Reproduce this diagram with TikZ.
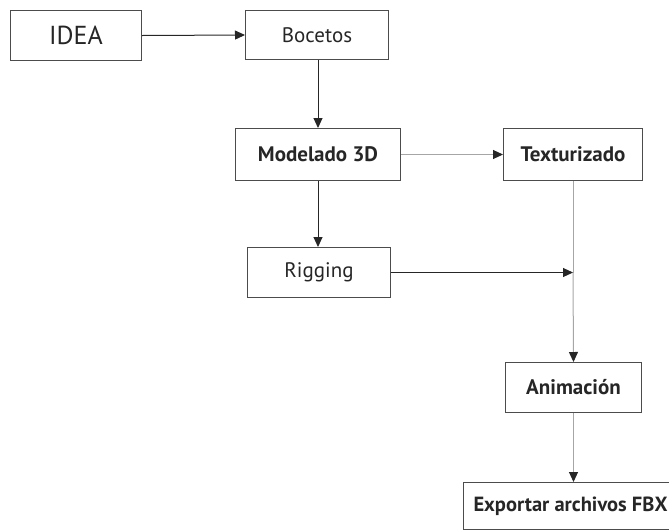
\documentclass[tikz,border=0pt]{standalone}
\usepackage{fontspec}
\setmainfont{PT Sans}
\usetikzlibrary{arrows.meta}
\begin{document}
\begin{tikzpicture}[x=1pt,y=-1pt,
  box/.style={draw=black!70, line width=1pt, inner sep=0pt, anchor=north west, text=black!85},
  blk/.style={draw=black!85, line width=1pt, -{Triangle[length=10pt,width=9pt]}},
  gry/.style={draw=black!35, line width=1pt, -{Triangle[length=10pt,width=9pt,color=black!85,fill=black!85]}},
  gryline/.style={draw=black!35, line width=1pt},
  lbl/.style={font=\fontsize{21}{24}\selectfont},
  lblb/.style={font=\fontsize{21}{24}\selectfont\bfseries}]
\useasboundingbox (0,0) rectangle (669,531);
\node[box, minimum width=131pt, minimum height=50pt, font=\fontsize{26}{30}\selectfont] (idea) at (10,10) {IDEA};
\node[box, minimum width=143pt, minimum height=49pt, lbl] (boc) at (245,10) {Bocetos};
\node[box, minimum width=165pt, minimum height=52pt, lblb] (mod) at (235,128) {Modelado 3D};
\node[box, minimum width=139pt, minimum height=52pt, lblb] (tex) at (503,128) {Texturizado};
\node[box, minimum width=143pt, minimum height=50pt, lbl] (rig) at (247,247) {Rigging};
\node[box, minimum width=136pt, minimum height=50pt, lblb] (ani) at (505,362) {Animación};
\node[box, minimum width=214pt, minimum height=47pt, font=\fontsize{20.5}{23}\selectfont\bfseries] (exp) at (463,482) {Exportar archivos FBX};
\coordinate (j) at (tex.south |- rig.east);
\draw[blk] (idea.east) -- (boc.west);
\draw[blk] (boc.south -| 318,0) -- (mod.north -| 318,0);
\draw[blk] (mod.south -| 318,0) -- (rig.north -| 318,0);
\draw[gry] (mod.east) -- (tex.west);
\draw[gryline] (tex.south) -- (j);
\draw[gry] (j) -- (ani.north);
\draw[blk] (rig.east) -- (j);
\draw[gry] (ani.south) -- (exp.north -| ani.south);
\end{tikzpicture}
\end{document}
